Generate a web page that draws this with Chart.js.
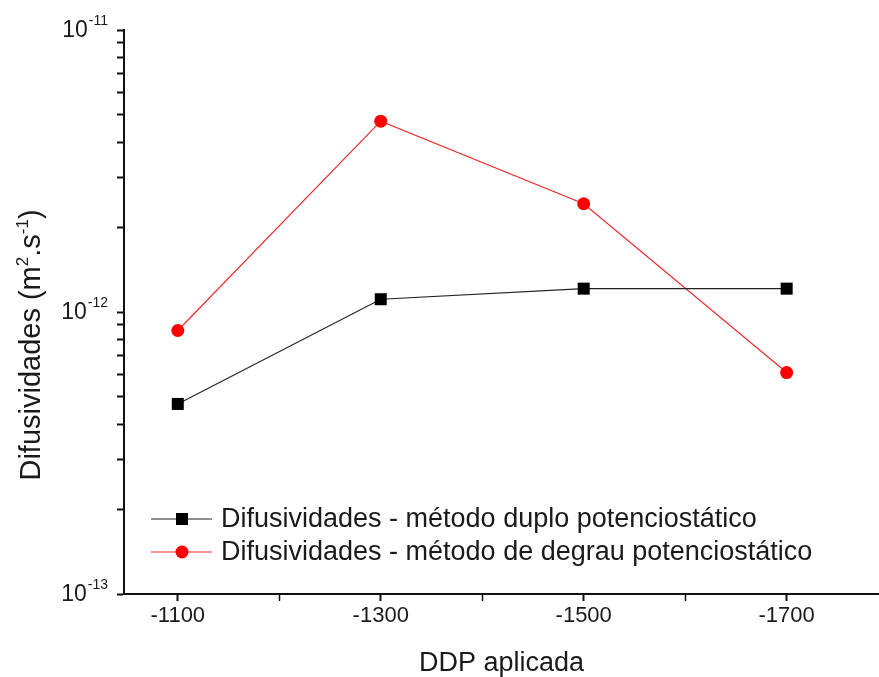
<!DOCTYPE html>
<html>
<head>
<meta charset="utf-8">
<script src="https://cdn.jsdelivr.net/npm/chart.js@4.4.1/dist/chart.umd.min.js"></script>
<style>
  html, body { margin: 0; padding: 0; background: #fff; overflow: hidden; }
  #caixa { width: 879px; height: 677px; position: relative; }
</style>
</head>
<body>
<div id="caixa"><canvas id="difusividades"></canvas></div>
<script>
// dados
var ddp = [-1100, -1300, -1500, -1700];
var duploPotenciostatico = [4.72e-13, 1.11e-12, 1.21e-12, 1.21e-12];
var degrauPotenciostatico = [8.6e-13, 4.75e-12, 2.42e-12, 6.1e-13];

var nomesSeries = [
    "Difusividades - método duplo potenciostático",
    "Difusividades - método de degrau potenciostático"
];
var xTicks = [-1100, -1200, -1300, -1400, -1500, -1600, -1700];
var xRotulos = [-1100, -1300, -1500, -1700];
var yExpoentes = [-13, -12, -11];
// título do eixo y em pedaços: [texto, sobrescrito?]
var tituloY = [["Difusividades (m", false], ["2", true], [".s", false], ["-1", true], [")", false]];

var fonte = "'Liberation Sans', Arial, sans-serif";
var corTexto = "#1a1a1a";

function pontos(valores) {
    return ddp.map(function (x, i) { return { x: x, y: valores[i] }; });
}

// rótulos 10^n, título do eixo y e legenda dentro da área do gráfico
var extras = {
    id: "extras",
    afterDraw: function (chart) {
        var ctx = chart.ctx;
        var ys = chart.scales.y;
        ctx.save();
        ctx.fillStyle = corTexto;
        ctx.textBaseline = "middle";
        yExpoentes.forEach(function (e) {
            var py = ys.getPixelForValue(Math.pow(10, e));
            var sup = String(e);
            ctx.font = "14px " + fonte;
            var wSup = ctx.measureText(sup).width;
            var xFim = 108;
            ctx.textAlign = "left";
            ctx.fillText(sup, xFim - wSup, py - 9);
            ctx.font = "23px " + fonte;
            ctx.textAlign = "right";
            ctx.fillText("10", xFim - wSup - 1, py + 1);
        });

        // título do eixo y com sobrescritos
        var fNormal = "29px " + fonte, fSup = "17px " + fonte;
        var total = 0;
        tituloY.forEach(function (p) {
            ctx.font = p[1] ? fSup : fNormal;
            total += ctx.measureText(p[0]).width;
        });
        ctx.save();
        ctx.translate(30, 345);
        ctx.rotate(-Math.PI / 2);
        ctx.textAlign = "left";
        ctx.textBaseline = "alphabetic";
        var px = -total / 2;
        tituloY.forEach(function (p) {
            ctx.font = p[1] ? fSup : fNormal;
            ctx.fillText(p[0], px, p[1] ? -2 : 10);
            px += ctx.measureText(p[0]).width;
        });
        ctx.restore();

        // legenda
        var linhas = [519, 552];
        ctx.textBaseline = "middle";
        chart.data.datasets.forEach(function (ds, i) {
            var py = linhas[i];
            ctx.strokeStyle = ds.borderColor;
            ctx.lineWidth = ds.borderWidth;
            ctx.beginPath();
            ctx.moveTo(151, py);
            ctx.lineTo(212, py);
            ctx.stroke();
            ctx.fillStyle = ds.pointBackgroundColor;
            ctx.beginPath();
            if (ds.pointStyle === "rect") {
                ctx.rect(182 - 6, py - 6, 12, 12);
            } else {
                ctx.arc(182, py, 6.5, 0, Math.PI * 2);
            }
            ctx.fill();
            ctx.fillStyle = corTexto;
            ctx.font = "27px " + fonte;
            ctx.textAlign = "left";
            ctx.fillText(ds.label, 221, py + 1);
        });
        ctx.restore();
    }
};

var ctx = document.getElementById("difusividades").getContext("2d");
var grafico = new Chart(ctx, {
    type: "line",
    data: {
        datasets: [
            {
                label: nomesSeries[0],
                data: pontos(duploPotenciostatico),
                borderColor: "#222",
                borderWidth: 1.2,
                pointStyle: "rect",
                pointRadius: 8.5,
                pointBackgroundColor: "#000",
                pointBorderColor: "#000",
                pointBorderWidth: 0
            },
            {
                label: nomesSeries[1],
                data: pontos(degrauPotenciostatico),
                borderColor: "#ee2a2a",
                borderWidth: 1.2,
                pointStyle: "circle",
                pointRadius: 6.5,
                pointBackgroundColor: "#ff0000",
                pointBorderColor: "#ff0000",
                pointBorderWidth: 0
            }
        ]
    },
    options: {
        responsive: true,
        maintainAspectRatio: false,
        animation: false,
        layout: { autoPadding: false, padding: { top: 30, right: 0, left: 0, bottom: 0 } },
        plugins: {
            legend: { display: false },
            tooltip: { enabled: false }
        },
        scales: {
            x: {
                type: "linear",
                reverse: true,
                min: -1791,
                max: -1047,
                afterBuildTicks: function (scale) {
                    scale.ticks = xTicks.map(function (v) { return { value: v }; });
                },
                afterFit: function (scale) {
                    scale.height = 83;
                    scale.paddingLeft = 0;
                    scale.paddingRight = 0;
                },
                ticks: {
                    autoSkip: false,
                    maxRotation: 0,
                    padding: 2,
                    color: corTexto,
                    font: { family: fonte, size: 22 },
                    callback: function (v) {
                        return xRotulos.indexOf(v) >= 0 ? String(v) : "";
                    }
                },
                grid: {
                    drawOnChartArea: false,
                    tickLength: 7,
                    tickColor: "#111",
                    tickWidth: function (c) {
                        return xRotulos.indexOf(c.tick.value) >= 0 ? 2 : 1.5;
                    }
                },
                border: { display: true, color: "#111", width: 2 },
                title: {
                    display: true,
                    text: "DDP aplicada",
                    color: corTexto,
                    font: { family: fonte, size: 27, lineHeight: 1 },
                    padding: { top: 0, bottom: 0 }
                }
            },
            y: {
                type: "logarithmic",
                min: 1e-13,
                max: 1e-11,
                afterBuildTicks: function (scale) {
                    var t = [];
                    for (var k = 0; k < yExpoentes.length - 1; k++) {
                        for (var m = 1; m < 10; m++) {
                            t.push({ value: m * Math.pow(10, yExpoentes[k]) });
                        }
                    }
                    t.push({ value: Math.pow(10, yExpoentes[yExpoentes.length - 1]) });
                    scale.ticks = t;
                },
                afterFit: function (scale) { scale.width = 124; },
                ticks: {
                    autoSkip: false,
                    callback: function () { return ""; }
                },
                grid: {
                    drawOnChartArea: false,
                    tickLength: 7,
                    tickColor: "#111",
                    tickWidth: 2
                },
                border: { display: true, color: "#111", width: 2 }
            }
        }
    },
    plugins: [extras]
});
</script>
</body>
</html>
